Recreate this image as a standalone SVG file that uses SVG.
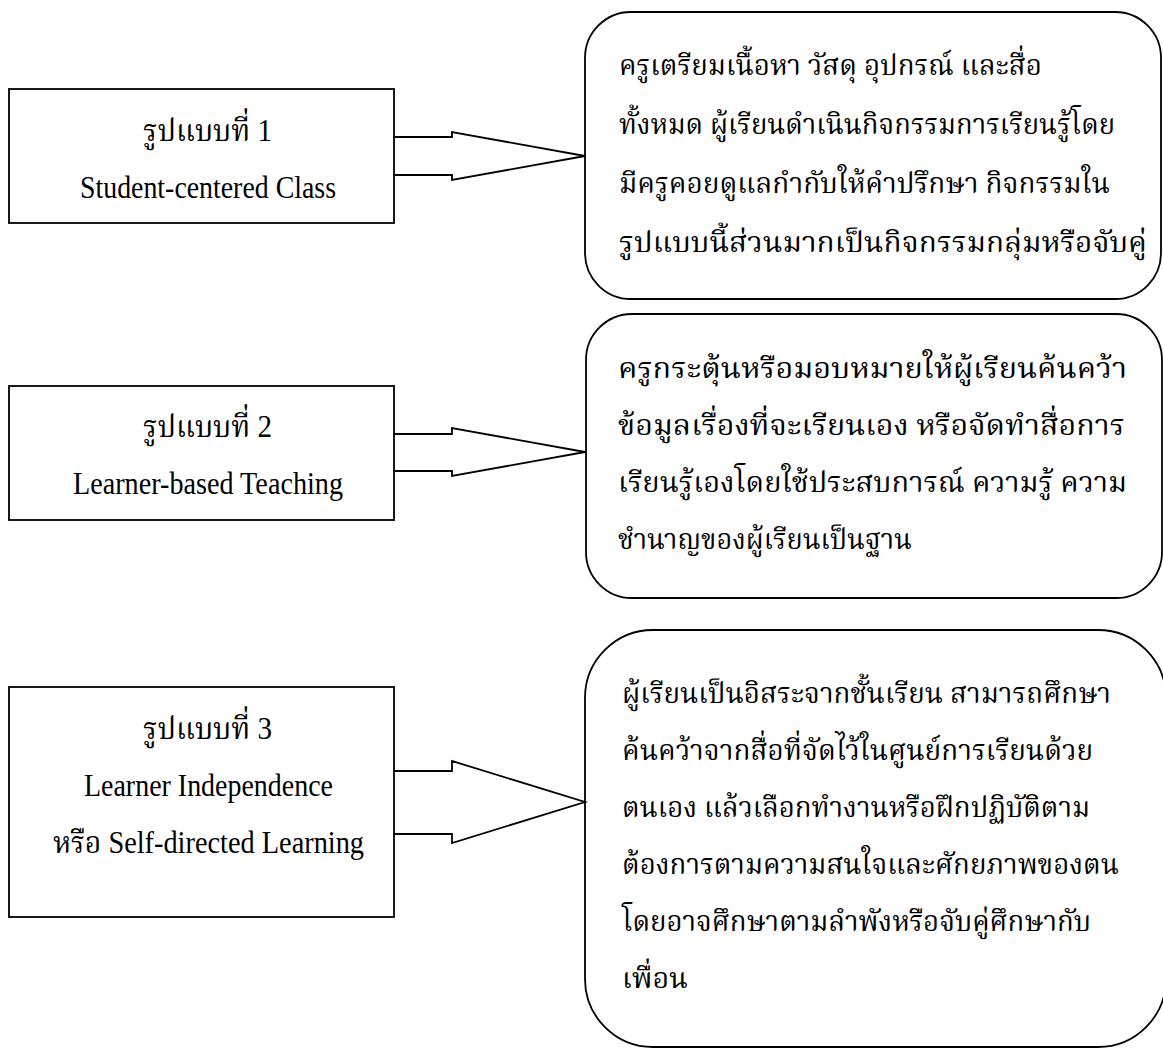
<svg xmlns="http://www.w3.org/2000/svg" width="1163" height="1048" viewBox="0 0 1163 1048">
<style>
.box{fill:#fff;stroke:#000;stroke-width:1.8}
.conn{fill:none;stroke:#000;stroke-width:1.8;stroke-linejoin:miter}
.lat{font-family:"Liberation Serif","Noto Serif Thai","Noto Sans Thai",serif;font-size:31px;fill:#000}
.th{font-family:"Liberation Serif","Noto Serif Thai","Noto Sans Thai",serif;font-size:28px;fill:#000}
</style>
<rect width="1163" height="1048" fill="#fff"/>
<g id="node-model1">
<rect class="box" x="9" y="89" width="385" height="134"/>
<text class="lat" x="143" y="141" textLength="129" lengthAdjust="spacingAndGlyphs">รูปแบบที่ 1</text>
<text class="lat" x="80" y="198" textLength="256" lengthAdjust="spacingAndGlyphs">Student-centered Class</text>
</g>
<g id="node-model2">
<rect class="box" x="9" y="386" width="385" height="134"/>
<text class="lat" x="143" y="437" textLength="129" lengthAdjust="spacingAndGlyphs">รูปแบบที่ 2</text>
<text class="lat" x="73" y="494" textLength="270" lengthAdjust="spacingAndGlyphs">Learner-based Teaching</text>
</g>
<g id="node-model3">
<rect class="box" x="9" y="687" width="385" height="230"/>
<text class="lat" x="143" y="739" textLength="129" lengthAdjust="spacingAndGlyphs">รูปแบบที่ 3</text>
<text class="lat" x="84" y="796" textLength="249" lengthAdjust="spacingAndGlyphs">Learner Independence</text>
<text class="lat" x="53" y="853" textLength="311" lengthAdjust="spacingAndGlyphs">หรือ Self-directed Learning</text>
</g>
<g id="node-desc1">
<rect class="box" x="585" y="12" width="576" height="287" rx="46" ry="46"/>
<text class="th" x="619" y="75" textLength="423" lengthAdjust="spacingAndGlyphs">ครูเตรียมเนื้อหา วัสดุ อุปกรณ์ และสื่อ</text>
<text class="th" x="619" y="134" textLength="496" lengthAdjust="spacingAndGlyphs">ทั้งหมด ผู้เรียนดำเนินกิจกรรมการเรียนรู้โดย</text>
<text class="th" x="619" y="193" textLength="491" lengthAdjust="spacingAndGlyphs">มีครูคอยดูแลกำกับให้คำปรึกษา กิจกรรมใน</text>
<text class="th" x="619" y="252" textLength="528" lengthAdjust="spacingAndGlyphs">รูปแบบนี้ส่วนมากเป็นกิจกรรมกลุ่มหรือจับคู่</text>
</g>
<g id="node-desc2">
<rect class="box" x="586" y="314" width="576" height="284" rx="46" ry="46"/>
<text class="th" x="618" y="378" textLength="509" lengthAdjust="spacingAndGlyphs">ครูกระตุ้นหรือมอบหมายให้ผู้เรียนค้นคว้า</text>
<text class="th" x="618" y="435" textLength="507" lengthAdjust="spacingAndGlyphs">ข้อมูลเรื่องที่จะเรียนเอง หรือจัดทำสื่อการ</text>
<text class="th" x="618" y="492" textLength="509" lengthAdjust="spacingAndGlyphs">เรียนรู้เองโดยใช้ประสบการณ์ ความรู้ ความ</text>
<text class="th" x="618" y="549" textLength="294" lengthAdjust="spacingAndGlyphs">ชำนาญของผู้เรียนเป็นฐาน</text>
</g>
<g id="node-desc3">
<rect class="box" x="585" y="630" width="581" height="417" rx="68" ry="68"/>
<text class="th" x="622" y="703" textLength="489" lengthAdjust="spacingAndGlyphs">ผู้เรียนเป็นอิสระจากชั้นเรียน สามารถศึกษา</text>
<text class="th" x="622" y="760" textLength="471" lengthAdjust="spacingAndGlyphs">ค้นคว้าจากสื่อที่จัดไว้ในศูนย์การเรียนด้วย</text>
<text class="th" x="622" y="817" textLength="468" lengthAdjust="spacingAndGlyphs">ตนเอง แล้วเลือกทำงานหรือฝึกปฏิบัติตาม</text>
<text class="th" x="622" y="874" textLength="497" lengthAdjust="spacingAndGlyphs">ต้องการตามความสนใจและศักยภาพของตน</text>
<text class="th" x="622" y="931" textLength="469" lengthAdjust="spacingAndGlyphs">โดยอาจศึกษาตามลำพังหรือจับคู่ศึกษากับ</text>
<text class="th" x="622" y="988" textLength="66" lengthAdjust="spacingAndGlyphs">เพื่อน</text>
</g>
<g id="connectors">
<path class="conn" d="M394,137 H452 V132 L585,156 L452,180 V175 H394"/>
<path class="conn" d="M394,434 H452 V428 L585,452 L452,476 V471 H394"/>
<path class="conn" d="M394,771 H452 V761 L585,802 L452,843 V834 H394"/>
</g>
</svg>
